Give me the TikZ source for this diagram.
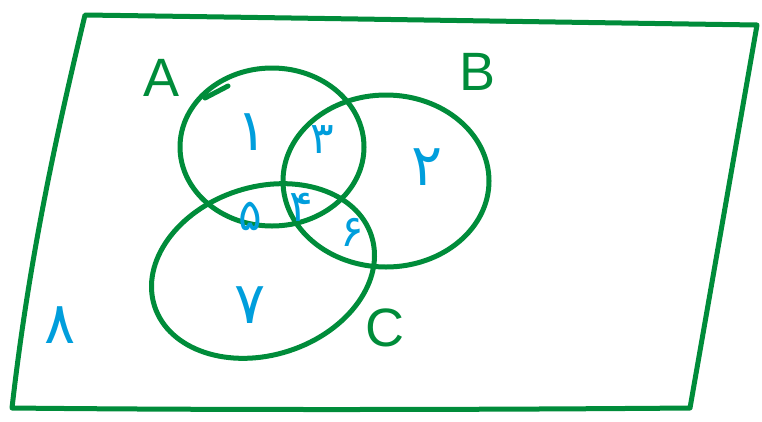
\documentclass[tikz,border=0pt]{standalone}
\usepackage{fontspec}
\setmainfont{Liberation Sans}
\newfontfamily\persfont[Script=Arabic]{DejaVu Sans}
\definecolor{pen}{RGB}{0,140,58}
\definecolor{ink}{RGB}{0,158,220}
\begin{document}
\begin{tikzpicture}[x=1pt,y=-1pt,
  stroke/.style={draw=pen,line width=5pt,line cap=round,line join=round},
  setlabel/.style={text=pen,font=\fontsize{54}{54}\selectfont},
  digit/.style={text=ink,font=\persfont\fontsize{58}{58}\selectfont},
  smalldigit/.style={text=ink,font=\persfont\fontsize{44}{44}\selectfont}]
\useasboundingbox (0,0) rectangle (762,421);
% universe
\draw[stroke] (85,15) .. controls (300,18) and (550,22) .. (757,25)
  -- (690,408) .. controls (450,410) and (200,410) .. (12,408)
  .. controls (30,250) and (60,120) .. (85,15) -- cycle;
% sets
\draw[stroke] (272,147) ellipse [x radius=92, y radius=79];
\draw[stroke] (386,181) ellipse [x radius=103, y radius=86];
\draw[stroke,rotate around={18:(263,271)}] (263,271) ellipse [x radius=114, y radius=84];
\draw[stroke] (205,98) -- (228,86);
% set labels
\node[setlabel] (la) at (162,78) {A};
\node[setlabel] (lb) at (478,72) {B};
\node[setlabel] (lc) at (385,328) {C};
% region digits
\node[digit] (d1) at (252,132) {۱};
\node[smalldigit] (d3) at (322,140) {۳};
\node[digit] (d2) at (427,167) {۲};
\node[smalldigit] (d5) at (250,216) {۵};
\node[smalldigit] (d4) at (301,207) {۴};
\node[smalldigit] (d6) at (352,232) {۶};
\node[digit] (d7) at (250,305) {۷};
\node[digit] (d8) at (60,325) {۸};
\end{tikzpicture}
\end{document}
